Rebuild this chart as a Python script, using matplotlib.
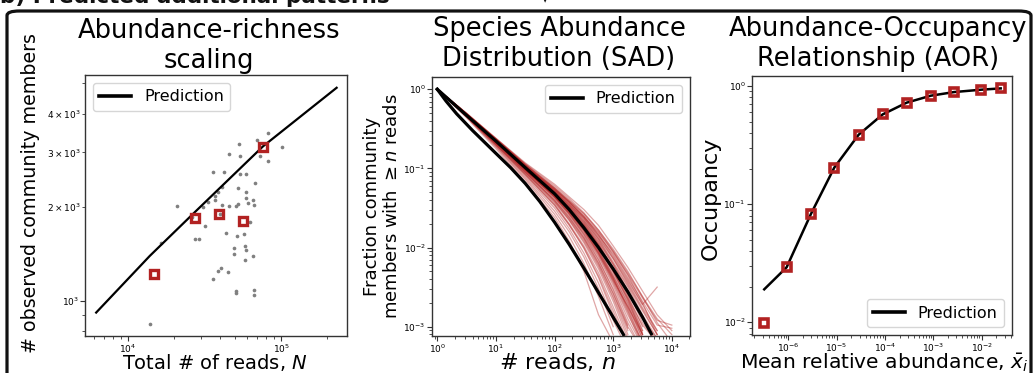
import numpy as np
import matplotlib
matplotlib.use("Agg")
import matplotlib.pyplot as plt
from matplotlib.patches import FancyBboxPatch

# ---------------- Panel 1: abundance-richness scaling ----------------
reads_all = [13870, 20980, 35770, 42240, 45800, 53010, 54080, 69230, 81770, 102000,
             73170, 82560, 54080, 58910, 67160, 38970, 41410, 36870, 37060, 33510,
             30760, 41000, 46030, 50660, 52470, 52470, 58910, 59210, 60420, 65510,
             66830, 32030, 27390, 28950, 43540, 51170, 56870, 62270, 49400, 58030,
             58910, 49150, 65510, 57740, 35950, 38970, 40570, 45120, 50910, 50910,
             66500, 66500, 16390, 26050, 39970]
richness_all = [843, 2021, 2593, 2587, 2954, 3183, 2918, 3278, 3469, 3120,
                2911, 2812, 2562, 2555, 2389, 2230, 2314, 2170, 2102, 2081,
                2001, 2036, 2021, 2011, 2051, 2297, 2241, 2138, 2061, 2113,
                2036, 1739, 1575, 1575, 1647, 1610, 1643, 1790, 1477, 1495,
                1451, 1413, 1395, 1348, 1177, 1249, 1277, 1239, 1074, 1059,
                1085, 1040, 1532, 1858, 1895]
reads_highlight = [14740, 27390, 39170, 56300, 76180]
richness_highlight = [1221, 1844, 1900, 1799, 3112]
reads_pred = [6194, 13870, 27390, 76180, 230800]
richness_pred = [915, 1392, 1928, 3135, 4841]

# ---------------- Panel 2: species abundance distribution ----------------
log_n_grid = [0, 0.5, 1, 1.5, 2, 2.25, 2.5, 2.75, 3, 3.25, 3.5, 3.75, 4]
sad_log_frac = [
    [0, -0.30, -0.62, -0.93, -1.20, -1.36, -1.52, -1.72, -1.98, -2.25, -2.55, -2.85, -3.05],
    [0, -0.31, -0.63, -0.95, -1.24, -1.40, -1.58, -1.80, -2.05, -2.35, -2.70, -3.10],
    [0, -0.31, -0.64, -0.97, -1.28, -1.45, -1.65, -1.90, -2.20, -2.50, -2.85, -3.15],
    [0, -0.32, -0.65, -0.98, -1.30, -1.50, -1.72, -1.98, -2.30, -2.65, -3.10],
    [0, -0.32, -0.66, -1.00, -1.33, -1.52, -1.75, -2.02, -2.35, -2.72, -3.15],
    [0, -0.33, -0.67, -1.02, -1.36, -1.57, -1.82, -2.10, -2.45, -2.85, -3.20],
    [0, -0.33, -0.68, -1.04, -1.40, -1.62, -1.88, -2.20, -2.58, -3.00, -3.30],
    [0, -0.34, -0.70, -1.07, -1.45, -1.70, -1.98, -2.32, -2.75, -3.20],
    [0, -0.34, -0.71, -1.10, -1.50, -1.76, -2.07, -2.45, -2.92, -3.30],
    [0, -0.35, -0.73, -1.14, -1.58, -1.86, -2.20, -2.62, -3.10],
    [0, -0.31, -0.63, -0.96, -1.27, -1.42, -1.60, -1.84, -2.12, -2.42, -2.72, -2.50],
    [0, -0.32, -0.64, -0.97, -1.26, -1.43, -1.62, -1.85, -2.08, -2.38, -2.68, -2.98, -3.02],
    [0, -0.32, -0.65, -0.99, -1.31, -1.48, -1.68, -1.93, -2.22, -2.55, -2.95, -3.20],
    [0, -0.33, -0.66, -1.01, -1.34, -1.55, -1.78, -2.05, -2.38, -2.78, -3.20],
    [0, -0.32, -0.65, -0.98, -1.29, -1.46, -1.66, -1.89, -2.18, -2.48, -2.80, -3.10],
    [0, -0.33, -0.67, -1.03, -1.38, -1.60, -1.86, -2.16, -2.52, -2.95, -3.30],
    [0, -0.34, -0.69, -1.06, -1.43, -1.66, -1.94, -2.27, -2.68, -3.15],
    [0, -0.33, -0.68, -1.04, -1.41, -1.64, -1.90, -2.22, -2.62, -3.05],
    [0, -0.32, -0.64, -0.97, -1.28, -1.46, -1.63, -1.88, -2.14, -2.46, -2.78, -3.10],
    [0, -0.31, -0.63, -0.95, -1.25, -1.41, -1.57, -1.78, -2.02, -2.30, -2.62, -2.90, -3.10],
    [0, -0.32, -0.65, -1.00, -1.32, -1.51, -1.73, -1.99, -2.30, -2.66, -3.05],
    [0, -0.33, -0.66, -1.01, -1.35, -1.54, -1.77, -2.06, -2.40, -2.80, -3.20],
    [0, -0.35, -0.72, -1.12, -1.54, -1.80, -2.12, -2.52, -3.00],
    [0, -0.33, -0.67, -1.02, -1.37, -1.58, -1.83, -2.12, -2.48, -2.90, -3.25],
    [0, -0.32, -0.66, -1.00, -1.34, -1.53, -1.76, -2.03, -2.36, -2.70, -3.08],
    [0, -0.31, -0.62, -0.94, -1.22, -1.38, -1.56, -1.78, -2.04, -2.32, -2.62, -2.95, -3.20],
    [0, -0.34, -0.70, -1.08, -1.47, -1.72, -2.00, -2.36, -2.80, -3.25],
    [0, -0.32, -0.66, -1.01, -1.35, -1.56, -1.79, -2.08, -2.42, -2.75, -3.10],
    [0, -0.33, -0.68, -1.05, -1.42, -1.65, -1.92, -2.24, -2.64, -3.10],
    [0, -0.32, -0.64, -0.98, -1.30, -1.49, -1.70, -1.96, -2.26, -2.60, -3.00],
    [0, -0.36, -0.75, -1.17, -1.62, -1.92, -2.30, -2.85, -3.20],
    [0, -0.31, -0.63, -0.95, -1.25, -1.42, -1.61, -1.83, -2.10, -2.40, -2.72, -3.05],
    [0, -0.32, -0.65, -0.99, -1.30, -1.48, -1.69, -1.95, -2.26, -2.62, -3.05],
    [0, -0.33, -0.67, -1.02, -1.36, -1.56, -1.80, -2.08, -2.43, -2.82, -3.25],
    [0, -0.32, -0.65, -0.99, -1.31, -1.50, -1.71, -1.96, -2.27, -2.58, -2.90, -3.15],
    [0, -0.33, -0.66, -1.00, -1.33, -1.53, -1.76, -2.04, -2.38, -2.76, -3.15],
    [0, -0.31, -0.63, -0.96, -1.26, -1.43, -1.61, -1.81, -2.06, -2.34, -2.64, -2.92, -2.98],
    [0, -0.34, -0.69, -1.05, -1.40, -1.62, -1.88, -2.19, -2.58, -3.02],
    [0, -0.32, -0.66, -1.01, -1.34, -1.53, -1.74, -2.00, -2.32, -2.68, -3.10],
    [0, -0.33, -0.67, -1.02, -1.36, -1.58, -1.84, -2.15, -2.54, -2.98],
    [0, -0.32, -0.64, -0.97, -1.29, -1.47, -1.67, -1.92, -2.21, -2.54, -2.88, -3.20],
    [0, -0.31, -0.64, -0.97, -1.27, -1.44, -1.63, -1.86, -2.14, -2.44, -2.76, -3.05],
    [0, -0.34, -0.70, -1.08, -1.46, -1.71, -2.01, -2.38, -2.85, -3.20],
    [0, -0.32, -0.65, -0.99, -1.32, -1.51, -1.72, -1.98, -2.29, -2.64, -2.98, -3.20],
    [0, -0.33, -0.66, -1.01, -1.34, -1.54, -1.78, -2.07, -2.40, -2.74, -3.10],
]
sad_pred_lower_log_n = [0, 0.15, 0.33, 0.6, 1.0, 1.25, 1.5, 1.75, 2.0, 2.25, 2.5, 2.83, 3.175]
sad_pred_lower_log_f = [0, -0.15, -0.31, -0.52, -0.81, -0.99, -1.19, -1.42, -1.68, -1.96,
                        -2.26, -2.67, -3.10]
sad_pred_upper_log_n = [0, 0.5, 1.0, 1.5, 2.0, 2.25, 2.5, 2.75, 3.0, 3.25, 3.5, 3.65]
sad_pred_upper_log_f = [0, -0.33, -0.655, -0.99, -1.32, -1.52, -1.75, -2.00, -2.27, -2.56,
                        -2.88, -3.09]

# ---------------- Panel 3: abundance-occupancy relationship ----------------
mean_abund = [10**-6.497, 10**-6.034, 10**-5.531, 10**-5.048, 10**-4.545, 10**-4.048,
              10**-3.552, 10**-3.055, 10**-2.572, 10**-2.014, 10**-1.607]
occupancy_obs = [0.0098, 0.0292, 0.0826, 0.204, 0.387, 0.575, 0.723, 0.828, 0.889, 0.931, 0.955]
occupancy_pred = [0.019, 0.0292, 0.0826, 0.204, 0.387, 0.575, 0.723, 0.828, 0.889, 0.931, 0.955]

RED = '#b22222'
W, H = 1035, 373

fig = plt.figure(figsize=(W / 100, H / 100), dpi=100)


def axes_px(left, top, right, bottom):
    return fig.add_axes([left / W, 1 - bottom / H, (right - left) / W, (bottom - top) / H])


def style(ax):
    for s in ax.spines.values():
        s.set_color('#333333')
        s.set_linewidth(1.0)
    ax.tick_params(which='both', labelsize=6.5, color='#333333', pad=1.0)
    ax.tick_params(which='major', length=3.5)
    ax.tick_params(which='minor', length=2)


def legend(ax, loc):
    leg = ax.legend(loc=loc, fontsize=11.5, handlelength=2.0, borderaxespad=0.5)
    for ln in leg.get_lines():
        ln.set_linewidth(2.6)
    return leg


# Frame & header
frame = FancyBboxPatch((7 / W, -0.2), 1024 / W, (1 - 11 / H) + 0.2,
                       boxstyle="round,pad=0,rounding_size=0.012",
                       transform=fig.transFigure, fill=False, lw=2.3, ec='#111111')
fig.patches.append(frame)
fig.text(0 / W, 1 - 3 / H, "b) Predicted additional patterns", fontsize=15.5,
         fontweight='bold', ha='left', va='baseline', color='#111111')
fig.text(545 / W, 1 - 1 / H, "\u25BC", fontsize=4, ha='center', va='center', color='#111111')

# ---- Panel 1
ax1 = axes_px(85, 75, 347, 336)
ax1.set_xscale('log')
ax1.set_yscale('log')
ax1.scatter(reads_all, richness_all, s=7, color='gray', linewidths=0, zorder=2)
ax1.plot(reads_pred, richness_pred, color='black', lw=1.6, label='Prediction', zorder=3)
ax1.plot(reads_highlight, richness_highlight, 's', ms=5.5, mfc='none', mec=RED, mew=2.4, zorder=4)
ax1.set_xlim(10**3.719, 10**5.431)
ax1.set_ylim(10**2.886, 10**3.726)
legend(ax1, 'upper left')
style(ax1)
fig.text(209 / W, 1 - 68 / H, "Abundance-richness\nscaling", fontsize=18.5,
         ha='center', va='baseline', multialignment='center')
fig.text(31 / W, 1 - 193 / H, "# observed community members", fontsize=13.7,
         rotation=90, ha='center', va='center')
fig.text(215 / W, 1 - 369 / H, "Total # of reads, $N$", fontsize=14, ha='center', va='baseline')

# ---- Panel 2
ax2 = axes_px(432, 77, 690, 336)
ax2.set_xscale('log')
ax2.set_yscale('log')
for curve in sad_log_frac:
    k = len(curve)
    n_vals = [10 ** g for g in log_n_grid[:k]]
    f_vals = [10 ** v for v in curve]
    ax2.plot(n_vals, f_vals, color=RED, lw=0.9, alpha=0.4, zorder=2)
ax2.plot([10 ** v for v in sad_pred_lower_log_n], [10 ** v for v in sad_pred_lower_log_f],
         color='black', lw=2.3, zorder=3)
ax2.plot([10 ** v for v in sad_pred_upper_log_n], [10 ** v for v in sad_pred_upper_log_f],
         color='black', lw=2.3, zorder=3, label='Prediction')
ax2.set_xlim(10**-0.09, 10**4.31)
ax2.set_ylim(10**-3.118, 10**0.155)
legend(ax2, 'upper right')
style(ax2)
fig.text(559 / W, 1 - 66 / H, "Species Abundance\nDistribution (SAD)", fontsize=18.5,
         ha='center', va='baseline', multialignment='center')
fig.text(382 / W, 1 - 206 / H, "Fraction community\nmembers with $\\geq n$ reads", fontsize=13,
         rotation=90, ha='center', va='center', multialignment='center')
fig.text(557 / W, 1 - 369 / H, "# reads, $n$", fontsize=16, ha='center', va='baseline')

# ---- Panel 3
ax3 = axes_px(752, 76, 1012, 335)
ax3.set_xscale('log')
ax3.set_yscale('log')
ax3.plot(mean_abund, occupancy_pred, color='black', lw=1.8, label='Prediction', zorder=3)
ax3.plot(mean_abund, occupancy_obs, 's', ms=6.3, mfc='none', mec=RED, mew=2.6, zorder=4)
ax3.set_xlim(10**-6.75, 10**-1.373)
ax3.set_ylim(10**-2.108, 10**0.085)
legend(ax3, 'lower right')
style(ax3)
fig.text(878 / W, 1 - 66 / H, "Abundance-Occupancy\nRelationship (AOR)", fontsize=18.5,
         ha='center', va='baseline', multialignment='center')
fig.text(711 / W, 1 - 198 / H, "Occupancy", fontsize=16, rotation=90, ha='center', va='center')
fig.text(884 / W, 1 - 369 / H, "Mean relative abundance, $\\bar{x}_i$", fontsize=14.6,
         ha='center', va='baseline')

fig.savefig("out.png", dpi=100)
